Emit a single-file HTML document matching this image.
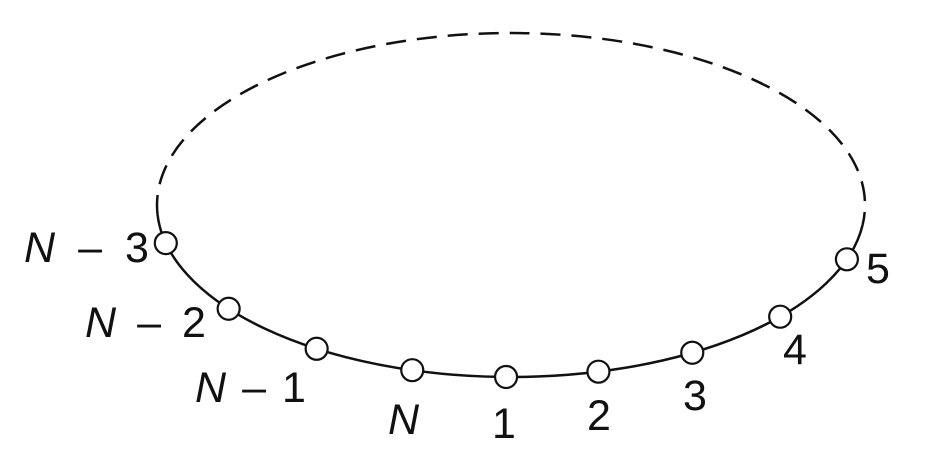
<!DOCTYPE html>
<html>
<head>
<meta charset="utf-8">
<style>
html,body{margin:0;padding:0;background:#fff;}
svg{display:block;}
text{font-family:"Liberation Sans",sans-serif;font-size:43px;fill:#111;}
</style>
</head>
<body>
<svg id="chart" width="940" height="460" viewBox="0 0 940 460">
  <path id="dashed" fill="none" stroke="#111" stroke-width="2.5" stroke-dasharray="20 11"/>
  <path id="solid" fill="none" stroke="#111" stroke-width="2.5"/>
  <g id="nodes"></g>
  <g id="labels">
    <text x="24" y="262"><tspan font-style="italic">N</tspan><tspan dx="23">–</tspan><tspan dx="23">3</tspan></text>
    <text x="85" y="337"><tspan font-style="italic">N</tspan><tspan dx="21">–</tspan><tspan dx="21">2</tspan></text>
    <text x="195" y="402"><tspan font-style="italic">N</tspan><tspan dx="16">–</tspan><tspan dx="16">1</tspan></text>
    <text x="388" y="434" font-style="italic">N</text>
    <text x="492" y="438">1</text>
    <text x="587" y="430">2</text>
    <text x="683" y="410">3</text>
    <text x="783" y="364">4</text>
    <text x="866" y="283">5</text>
  </g>
</svg>
<script>
const nodeNames = ["N-3","N-2","N-1","N","1","2","3","4","5"];
const nodeAngles = [167.2,142.9,123.3,106.2,90.8,75.7,59.2,40.5,18.4];
const cx=511, cy=205, rx=354, ry=172;
function px(a){return cx+rx*Math.cos(a*Math.PI/180);}
function py(a){return cy+ry*Math.sin(a*Math.PI/180);}
const solidStart=176.7, solidEnd=6.6;
document.getElementById('solid').setAttribute('d',
  `M${px(solidStart)},${py(solidStart)} A${rx},${ry} 0 0 0 ${px(solidEnd)},${py(solidEnd)}`);
document.getElementById('dashed').setAttribute('d',
  `M${px(solidStart)},${py(solidStart)} A${rx},${ry} 0 1 1 ${px(solidEnd)},${py(solidEnd)}`);
const g=document.getElementById('nodes');
nodeAngles.forEach((a,i)=>{
  const c=document.createElementNS('http://www.w3.org/2000/svg','circle');
  c.setAttribute('cx',px(a));c.setAttribute('cy',py(a));c.setAttribute('r',11);
  c.setAttribute('fill','#fff');c.setAttribute('stroke','#111');c.setAttribute('stroke-width','2.2');
  
  
  g.appendChild(c);
});
</script>
</body>
</html>
